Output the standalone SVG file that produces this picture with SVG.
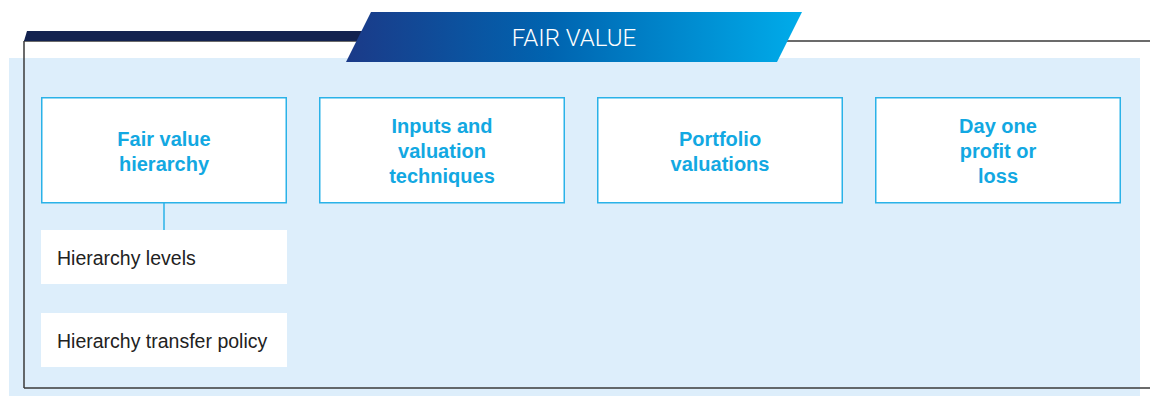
<svg xmlns="http://www.w3.org/2000/svg" width="1150" height="396" viewBox="0 0 1150 396">
  <defs>
    <linearGradient id="hdr" x1="346" y1="0" x2="802" y2="0" gradientUnits="userSpaceOnUse">
      <stop offset="0" stop-color="#1b3a88"/>
      <stop offset="0.45" stop-color="#0064b0"/>
      <stop offset="1" stop-color="#00acea"/>
    </linearGradient>
    <style>
      .box { fill: #ffffff; stroke: #2ab2e8; stroke-width: 1.5; }
      .sub { fill: #ffffff; }
      .lbl { font-family: "Liberation Sans", Arial, sans-serif; font-weight: bold; font-size: 20px; fill: #12a8e2; text-anchor: middle; }
      .sublbl { font-family: "Liberation Sans", Arial, sans-serif; font-size: 19.5px; fill: #222222; }
      .frame { fill: none; stroke: #3a3a3a; stroke-width: 1.5; }
      .conn { stroke: #2ab2e8; stroke-width: 1.5; fill: none; }
    </style>
  </defs>

  <rect x="0" y="0" width="1150" height="396" fill="#ffffff"/>
  <rect x="9" y="58" width="1131" height="338" fill="#ddeefb"/>

  <g id="frame">
    <line class="frame" x1="24" y1="41" x2="1150" y2="41" stroke="#666666"/>
    <line class="frame" x1="24" y1="41" x2="24" y2="388"/>
    <line class="frame" x1="24" y1="388" x2="1150" y2="388"/>
    <polygon points="27,31 370,31 366,41 24,41" fill="#13224f"/>
  </g>

  <g id="header">
    <polygon points="371,12 802,12 777,62 346,62" fill="url(#hdr)"/>
    <text x="574" y="46" font-family="Roboto, 'Liberation Sans', sans-serif" font-weight="300" font-size="24" fill="#ffffff" text-anchor="middle">FAIR VALUE</text>
  </g>

  <g id="connectors">
    <line class="conn" x1="164" y1="203" x2="164" y2="230"/>
  </g>

  <g id="node-fair-value-hierarchy">
    <rect class="box" x="41.75" y="97.75" width="244.5" height="105"/>
    <text class="lbl" x="164" y="146">Fair value</text>
    <text class="lbl" x="164" y="171">hierarchy</text>
  </g>

  <g id="node-inputs">
    <rect class="box" x="319.75" y="97.75" width="244.5" height="105"/>
    <text class="lbl" x="442" y="133">Inputs and</text>
    <text class="lbl" x="442" y="158">valuation</text>
    <text class="lbl" x="442" y="183">techniques</text>
  </g>

  <g id="node-portfolio">
    <rect class="box" x="597.75" y="97.75" width="244.5" height="105"/>
    <text class="lbl" x="720" y="146">Portfolio</text>
    <text class="lbl" x="720" y="171">valuations</text>
  </g>

  <g id="node-day-one">
    <rect class="box" x="875.75" y="97.75" width="244.5" height="105"/>
    <text class="lbl" x="998" y="133">Day one</text>
    <text class="lbl" x="998" y="158">profit or</text>
    <text class="lbl" x="998" y="183">loss</text>
  </g>

  <g id="node-hierarchy-levels">
    <rect class="sub" x="41" y="230" width="246" height="54"/>
    <text class="sublbl" x="57" y="265">Hierarchy levels</text>
  </g>

  <g id="node-hierarchy-transfer">
    <rect class="sub" x="41" y="313" width="246" height="54"/>
    <text class="sublbl" x="57" y="348">Hierarchy transfer policy</text>
  </g>
</svg>
